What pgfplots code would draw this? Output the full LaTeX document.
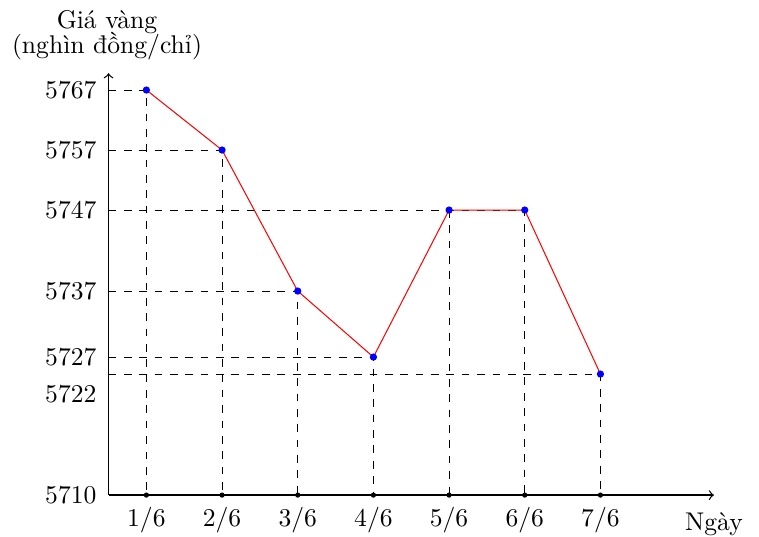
\documentclass[border=0pt]{standalone}
\usepackage{pgfplots}
\pgfplotsset{compat=1.18}
\usepackage{pgfplotstable}
\pgfplotstableread{
x y
1 5767
2 5757
3 5737
4 5727
5 5747
6 5747
7 5722
}\datatable
\begin{document}
\begin{tikzpicture}
\begin{axis}[
  scale only axis,
  width=236.5pt, height=164.8pt,
  axis lines=left,
  axis line style={-to, line width=0.5pt},
  xmin=0.5, xmax=8.5,
  ymin=5710, ymax=5769.8,
  y coord trafo/.code={\pgfmathparse{(#1<=5722) ? ((#1-5710)*121/12) : ((#1<=5727) ? (121+(#1-5722)*3.4) : ((#1<=5737) ? (138+(#1-5727)*6.6) : ((#1<=5747) ? (204+(#1-5737)*8.1) : (285+(#1-5747)*6))))}},
  xtick={1,2,3,4,5,6,7},
  xticklabels={1/6,2/6,3/6,4/6,5/6,6/6,7/6},
  ytick={5710,5727,5737,5747,5757,5767},
  yticklabels={5710,5727,5737,5747,5757,5767},
  extra y ticks={5722},
  extra y tick labels={5722},
  extra y tick style={yticklabel style={yshift=-7.8pt}},
  major tick length=0pt,
  yticklabel style={xshift=-1.2pt},
  xticklabel style={yshift=-1.4pt},
  xlabel={Ngày},
  xlabel style={at={(axis description cs:1,0)}, anchor=north, yshift=-3.4pt},
  ylabel={Giá vàng\\[-2.3pt](nghìn đồng/chỉ)},
  ylabel style={at={(axis description cs:0,1)}, anchor=south, rotate=-90, align=center, yshift=1.7pt, xshift=-0.6pt},
  clip=false,
]
\addplot[dashed, black, thin] coordinates {(0.5,5767)(1,5767)(1,5710)};
\addplot[dashed, black, thin] coordinates {(0.5,5757)(2,5757)(2,5710)};
\addplot[dashed, black, thin] coordinates {(0.5,5737)(3,5737)(3,5710)};
\addplot[dashed, black, thin] coordinates {(0.5,5727)(4,5727)(4,5710)};
\addplot[dashed, black, thin] coordinates {(0.5,5747)(6,5747)(6,5710)};
\addplot[dashed, black, thin] coordinates {(5,5747)(5,5710)};
\addplot[dashed, black, thin] coordinates {(0.5,5722)(7,5722)(7,5710)};
\addplot[red, thin] table[x=x, y=y] {\datatable};
\addplot[only marks, mark=*, mark size=1.2pt, blue] table[x=x, y=y] {\datatable};
\addplot[only marks, mark=*, mark size=0.8pt, black] table[x=x, y expr=5710] {\datatable};
\end{axis}
\pgfresetboundingbox
\path[use as bounding box] ([shift={(-42.4pt,-16pt)}]current axis.south west) rectangle ([shift={(254.1pt,193.4pt)}]current axis.south west);
\end{tikzpicture}
\end{document}
